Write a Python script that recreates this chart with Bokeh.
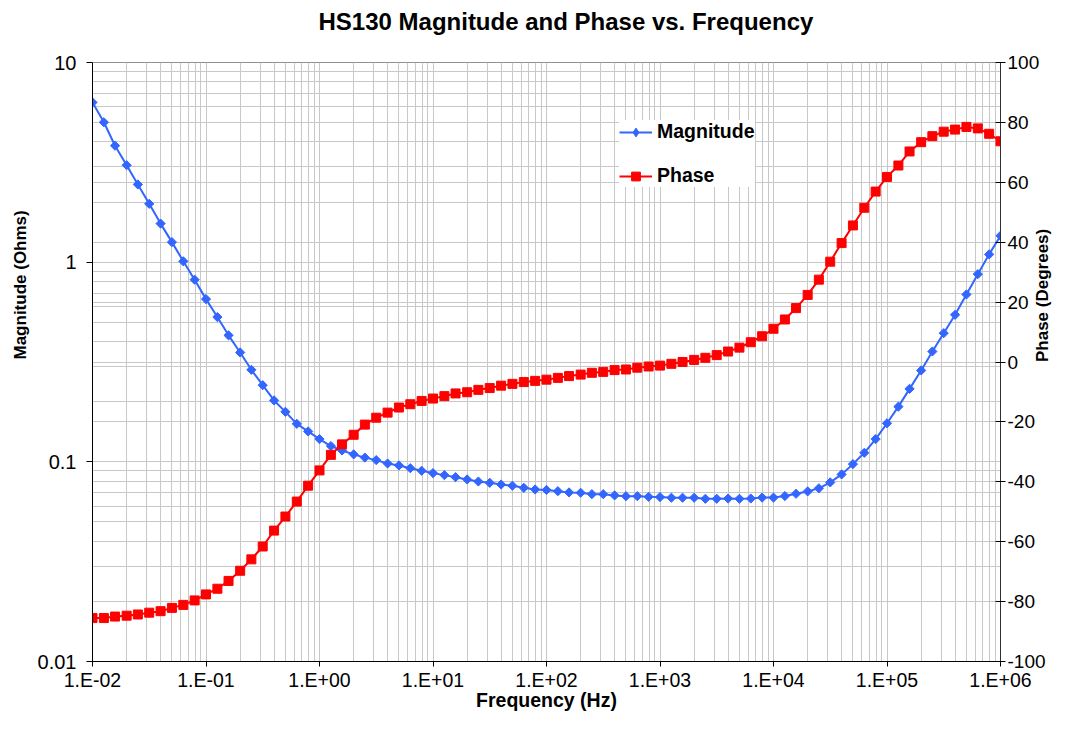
import math
import numpy as np
from bokeh.plotting import figure
from bokeh.models import (Range1d, LinearAxis, LinearScale, FixedTicker, Grid,
                          Legend, LegendItem, Title)
from bokeh.embed import file_html
from bokeh.resources import INLINE

# ---------------- data ----------------
freq_hz = [
    1.00e-2, 1.26e-2, 1.58e-2, 2.00e-2, 2.51e-2, 3.16e-2, 3.98e-2, 5.01e-2, 6.31e-2, 7.94e-2,
    1.00e-1, 1.26e-1, 1.58e-1, 2.00e-1, 2.51e-1, 3.16e-1, 3.98e-1, 5.01e-1, 6.31e-1, 7.94e-1,
    1.00e0, 1.26e0, 1.58e0, 2.00e0, 2.51e0, 3.16e0, 3.98e0, 5.01e0, 6.31e0, 7.94e0,
    1.00e1, 1.26e1, 1.58e1, 2.00e1, 2.51e1, 3.16e1, 3.98e1, 5.01e1, 6.31e1, 7.94e1,
    1.00e2, 1.26e2, 1.58e2, 2.00e2, 2.51e2, 3.16e2, 3.98e2, 5.01e2, 6.31e2, 7.94e2,
    1.00e3, 1.26e3, 1.58e3, 2.00e3, 2.51e3, 3.16e3, 3.98e3, 5.01e3, 6.31e3, 7.94e3,
    1.00e4, 1.26e4, 1.58e4, 2.00e4, 2.51e4, 3.16e4, 3.98e4, 5.01e4, 6.31e4, 7.94e4,
    1.00e5, 1.26e5, 1.58e5, 2.00e5, 2.51e5, 3.16e5, 3.98e5, 5.01e5, 6.31e5, 7.94e5,
    1.00e6,
]

magnitude_ohms = [
    6.31, 5.02, 3.83, 3.06, 2.45, 1.96, 1.56, 1.26, 1.01, 0.817,
    0.653, 0.531, 0.430, 0.353, 0.289, 0.242, 0.203, 0.178, 0.155, 0.142,
    0.130, 0.120, 0.114, 0.109, 0.105, 0.102, 0.0981, 0.0959, 0.0929, 0.0902,
    0.0878, 0.0858, 0.0838, 0.0816, 0.0797, 0.0785, 0.0770, 0.0759, 0.0741, 0.0727,
    0.0723, 0.0713, 0.0703, 0.0700, 0.0689, 0.0689, 0.0679, 0.0673, 0.0673, 0.0668,
    0.0666, 0.0661, 0.0661, 0.0661, 0.0653, 0.0653, 0.0655, 0.0653, 0.0655, 0.0662,
    0.0662, 0.0674, 0.0692, 0.0711, 0.0737, 0.0789, 0.0865, 0.0974, 0.111, 0.130,
    0.156, 0.189, 0.232, 0.287, 0.357, 0.441, 0.545, 0.689, 0.871, 1.094,
    1.356,
]

phase_deg = [
    -85.5, -85.5, -85.0, -84.7, -84.3, -83.7, -83.2, -82.1, -81.1, -79.6,
    -77.6, -75.7, -73.1, -69.7, -65.9, -61.6, -56.3, -51.6, -46.6, -41.3,
    -36.2, -31.0, -27.5, -24.3, -20.9, -18.6, -16.9, -15.2, -14.1, -13.0,
    -12.2, -11.4, -10.5, -10.1, -9.3, -8.7, -7.9, -7.3, -6.7, -6.3,
    -5.9, -5.3, -4.7, -4.2, -3.6, -3.3, -2.7, -2.5, -1.9, -1.5,
    -1.2, -0.6, 0.0, 0.7, 1.4, 2.3, 3.5, 4.8, 6.6, 8.6,
    11.1, 14.2, 18.0, 22.4, 27.5, 33.5, 39.7, 45.6, 51.5, 56.9,
    61.8, 65.6, 70.3, 73.4, 75.4, 76.9, 77.6, 78.5, 78.0, 76.2,
    73.7,
]

x_ticks = [1e-2, 1e-1, 1.0, 1e1, 1e2, 1e3, 1e4, 1e5, 1e6]
x_tick_labels = ["1.E-02", "1.E-01", "1.E+00", "1.E+01", "1.E+02",
                 "1.E+03", "1.E+04", "1.E+05", "1.E+06"]
mag_ticks = [0.01, 0.1, 1.0, 10.0]
mag_tick_labels = ["0.01", "0.1", "1", "10"]
phase_ticks = [-100, -80, -60, -40, -20, 0, 20, 40, 60, 80, 100]
phase_tick_labels = ["-100", "-80", "-60", "-40", "-20", "0", "20", "40", "60", "80", "100"]

title_text = "HS130 Magnitude and Phase vs. Frequency"
x_label = "Frequency (Hz)"
mag_label = "Magnitude (Ohms)"
phase_label = "Phase (Degrees)"
series_names = ["Magnitude", "Phase"]

# ---------------- style ----------------
FONT = "Liberation Sans"
BLUE = "#3366ff"
RED = "#ff0000"
GRID = "#c8c8c8"

x_minor = [d * k for d in x_ticks[:-1] for k in range(2, 10)]
mag_minor = [d * k for d in mag_ticks[:-1] for k in range(2, 10)]

p = figure(width=1064, height=713,
           x_axis_type="log", y_axis_type="log",
           x_range=Range1d(1e-2, 1e6), y_range=Range1d(0.01, 10),
           output_backend="svg", toolbar_location=None,
           min_border_left=92, min_border_right=64,
           min_border_top=62, min_border_bottom=52)
p.background_fill_color = "white"
p.border_fill_color = "white"
p.outline_line_color = "#909090"

xa = p.below[0]   # the frequency (log) axis
ya = p.left[0]    # the magnitude (log) axis

# blank spacer axis between frame and title: one white tick at the frame's
# left edge, no axis line, no label text; only reserves vertical space
spacer = LinearAxis(ticker=FixedTicker(ticks=[x_ticks[0]]), axis_line_color=None,
                    major_tick_line_color="white", minor_tick_line_color=None,
                    major_tick_in=0, major_tick_out=25, minor_tick_in=0,
                    minor_tick_out=0, major_label_standoff=0,
                    major_label_overrides={x_ticks[0]: ""},
                    major_label_text_font_size="0px",
                    major_label_text_color=None)
p.add_layout(spacer, "above")

# title
p.add_layout(Title(text=title_text, align="left", offset=226, standoff=6,
                   text_font=FONT, text_font_size="24px", text_font_style="bold",
                   text_color="black"), "above")

# x axis
xa.ticker = FixedTicker(ticks=x_ticks, minor_ticks=x_minor)
xa.major_label_overrides = dict(zip(x_ticks, x_tick_labels))
xa.major_label_text_font = FONT
xa.major_label_text_font_size = "19.5px"
xa.major_label_text_color = "black"
xa.major_tick_out = 5
xa.major_tick_in = 0
xa.minor_tick_line_color = None
xa.major_label_standoff = 2
xa.axis_line_color = "black"
xa.axis_label = x_label
xa.axis_label_text_font = FONT
xa.axis_label_text_font_size = "19.5px"
xa.axis_label_text_font_style = "bold"
xa.axis_label_text_color = "black"
xa.axis_label_standoff = -5

# left (magnitude) axis
ya.ticker = FixedTicker(ticks=mag_ticks, minor_ticks=mag_minor)
ya.major_label_overrides = dict(zip(mag_ticks, mag_tick_labels))
ya.major_label_text_font = FONT
ya.major_label_text_font_size = "20px"
ya.major_label_text_color = "black"
ya.major_tick_out = 6
ya.major_tick_in = 0
ya.minor_tick_line_color = None
ya.major_label_standoff = 10
ya.axis_line_color = "black"

mag_title = Title(text=mag_label, align="left", offset=302,
                  text_font=FONT, text_font_size="17px", text_font_style="bold",
                  text_color="black", standoff=10)
p.add_layout(mag_title, "left")

# grids
for g in (p.xgrid[0], p.ygrid[0]):
    g.grid_line_color = GRID
    g.minor_grid_line_color = GRID
    g.grid_line_width = 1
    g.minor_grid_line_width = 1

# right (phase) axis, linear
p.extra_y_ranges = {"phase": Range1d(-100, 100)}
p.extra_y_scales = {"phase": LinearScale()}
phase_ticker = FixedTicker(ticks=phase_ticks)
ra = LinearAxis(y_range_name="phase", ticker=phase_ticker)
ra.major_label_overrides = dict(zip(phase_ticks, phase_tick_labels))
ra.major_label_text_font = FONT
ra.major_label_text_font_size = "19px"
ra.major_label_text_color = "black"
ra.major_tick_in = 5
ra.major_tick_out = 5
ra.minor_tick_line_color = None
ra.major_label_standoff = 2
ra.axis_line_color = "#303030"
ra.axis_label = phase_label
ra.axis_label_orientation = math.pi / 2
ra.axis_label_text_font = FONT
ra.axis_label_text_font_size = "17px"
ra.axis_label_text_font_style = "bold"
ra.axis_label_text_color = "black"
ra.axis_label_standoff = -6
p.add_layout(ra, "right")

pg = Grid(dimension=1, ticker=phase_ticker, y_range_name="phase",
          grid_line_color=GRID, grid_line_width=1)
p.add_layout(pg)

# series
l1 = p.line(freq_hz, magnitude_ohms, line_color=BLUE, line_width=2)
s1 = p.scatter(freq_hz, magnitude_ohms, marker="square", angle=math.pi / 4,
               size=6.5, fill_color=BLUE, line_color=BLUE)
l2 = p.line(freq_hz, phase_deg, y_range_name="phase", line_color=RED, line_width=2)
s2 = p.scatter(freq_hz, phase_deg, y_range_name="phase", marker="square",
               size=9, fill_color=RED, line_color=RED)
# legend-only diamond key (a single undrawable NaN point, nothing on the plot)
key1 = p.scatter(x=np.array([np.nan]), y=np.array([np.nan]), marker="diamond",
                 size=10, fill_color=BLUE, line_color=BLUE)

legend = Legend(items=[LegendItem(label=series_names[0], renderers=[l1, key1]),
                       LegendItem(label=series_names[1], renderers=[l2, s2])],
                location=(527, 474))
legend.label_text_font = FONT
legend.label_text_font_size = "19.5px"
legend.label_text_font_style = "bold"
legend.label_text_color = "black"
legend.border_line_color = None
legend.background_fill_color = "white"
legend.background_fill_alpha = 1.0
legend.padding = 11
legend.spacing = 21
legend.label_height = 22
legend.glyph_height = 22
legend.glyph_width = 33
legend.label_standoff = 5
legend.margin = 0
p.add_layout(legend, "center")

open("out.html", "w").write(file_html(p, INLINE))
